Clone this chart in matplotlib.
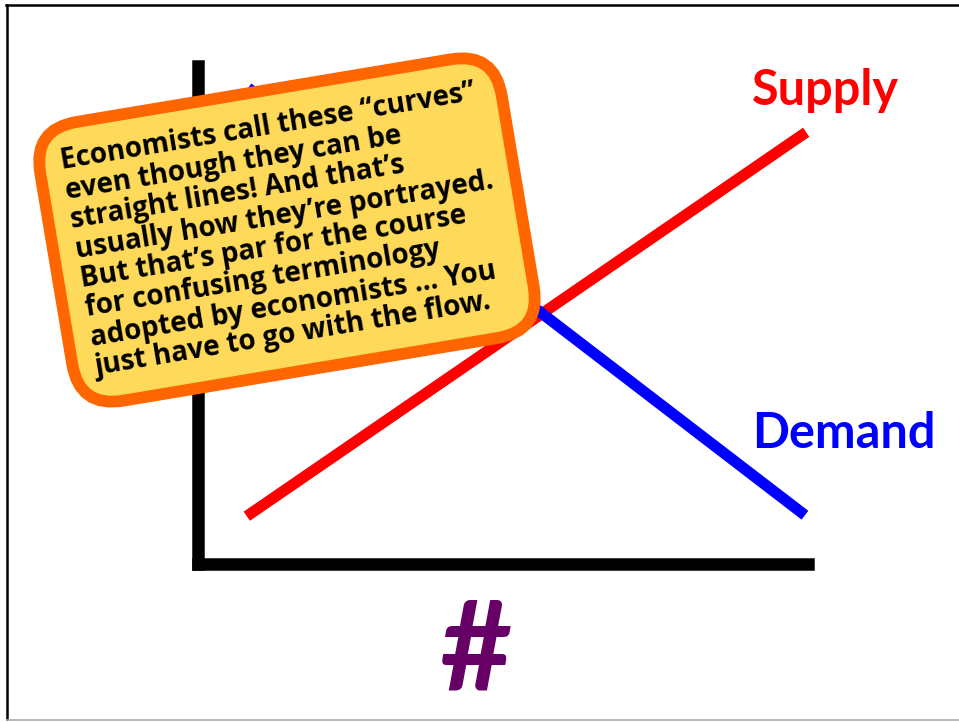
import matplotlib
matplotlib.use("Agg")
import matplotlib.pyplot as plt
from matplotlib.lines import Line2D

# quantity / price end points of the two schedules (axis units 0-10)
supply_q = [0.80, 9.97]
supply_p = [0.96, 8.67]
demand_q = [0.82, 9.95]
demand_p = [9.56, 0.98]

labels = ["Supply", "Demand"]
label_q = [9.08, 9.08]
label_p = [9.22, 2.33]
label_colors = ["#FF0000", "#0000FF"]

x_label = "#"

note_lines = [
    "Economists call these \u201ccurves\u201d",
    "even though they can be",
    "straight lines! And that\u2019s",
    "usually how they\u2019re portrayed.",
    "But that\u2019s par for the course",
    "for confusing terminology",
    "adopted by economists \u2026 You",
    "just have to go with the flow.",
]

W, H = 959, 722
fig = plt.figure(figsize=(W / 100, H / 100), dpi=100)
fig.patch.set_facecolor("white")

# slide frame
fig.add_artist(Line2D([7 / W, 7 / W], [1 - 5 / H, 1 - 719 / H], color="black", lw=1.8))
fig.add_artist(Line2D([6 / W, 1.0], [1 - 5 / H, 1 - 5 / H], color="black", lw=1.8))
fig.add_artist(Line2D([7 / W, 1.0], [1 - 719.5 / H, 1 - 719.5 / H], color="#AAAAAA", lw=1.2))

ax = fig.add_axes([198 / W, 1 - 564 / H, 610 / W, 498 / H])
ax.set_xlim(0, 10)
ax.set_ylim(0, 10)
ax.set_xticks([])
ax.set_yticks([])
ax.patch.set_alpha(0)
for side in ["top", "right"]:
    ax.spines[side].set_visible(False)
for side in ["left", "bottom"]:
    ax.spines[side].set_linewidth(9)
    ax.spines[side].set_capstyle("projecting")
    ax.spines[side].set_color("black")

ax.plot(supply_q, supply_p, color="#FF0000", lw=8, solid_capstyle="butt", clip_on=False, zorder=3)
ax.plot(demand_q, demand_p, color="#0000FF", lw=8, solid_capstyle="butt", clip_on=False, zorder=4)

for txt, q, p, c in zip(labels, label_q, label_p, label_colors):
    ax.text(q, p, txt, color=c, fontsize=35, fontweight="bold", family="Lato",
            ha="left", va="baseline", clip_on=False)

ax.text(4.54, -2.53, x_label, color="#660066", fontsize=90, fontweight="bold",
        family="Lato", ha="center", va="baseline", clip_on=False)

# callout box
fig.text(287 / W, 1 - 230 / H, "\n".join(note_lines), rotation=9.5,
         ha="center", va="center", multialignment="left",
         fontsize=20, fontweight="bold", family="Open Sans", linespacing=1.04,
         color="black", zorder=10,
         bbox=dict(boxstyle="round,pad=0.8,rounding_size=1.6",
                   facecolor="#FFD95A", edgecolor="#FF6600", linewidth=8.5))

fig.savefig("out.png", dpi=100)
